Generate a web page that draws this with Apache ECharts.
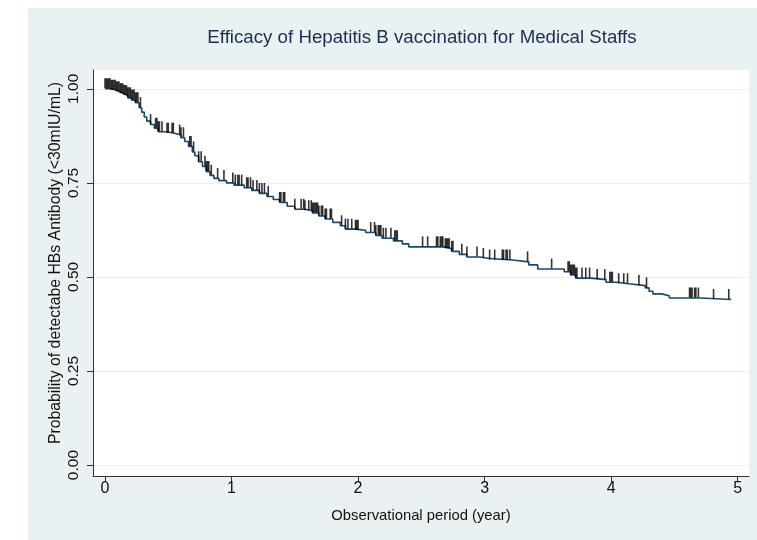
<!DOCTYPE html>
<html>
<head>
<meta charset="utf-8">
<script src="https://cdn.jsdelivr.net/npm/echarts@6/dist/echarts.min.js"></script>
<style>html,body{margin:0;padding:0;background:#fff;}#c{width:757px;height:540px;}</style>
</head>
<body>
<div id="c"></div>
<script>
// Kaplan-Meier step estimates: event times (years) and survival after each event
const eventTimes = [0.00,0.05,0.09,0.12,0.15,0.18,0.21,0.24,0.27,0.29,0.31,0.33,0.36,0.39,0.42,0.48,0.55,0.60,0.63,0.66,0.69,0.71,0.74,0.77,0.80,0.83,0.86,0.90,0.96,1.02,1.10,1.16,1.22,1.28,1.33,1.38,1.44,1.50,1.58,1.64,1.69,1.74,1.80,1.86,1.90,1.98,2.06,2.14,2.19,2.28,2.35,2.40,2.68,2.74,2.80,2.86,2.96,3.04,3.22,3.35,3.42,3.63,3.68,3.72,3.84,3.96,4.04,4.14,4.27,4.30,4.33,4.40,4.46,4.71,4.95];
const survival   = [1.000,0.996,0.992,0.987,0.982,0.976,0.970,0.963,0.950,0.938,0.925,0.914,0.905,0.895,0.886,0.882,0.877,0.870,0.860,0.847,0.832,0.822,0.806,0.794,0.780,0.770,0.762,0.756,0.750,0.744,0.737,0.730,0.722,0.714,0.706,0.698,0.688,0.680,0.676,0.670,0.662,0.654,0.645,0.636,0.627,0.624,0.618,0.610,0.603,0.596,0.588,0.580,0.575,0.568,0.560,0.553,0.549,0.545,0.540,0.532,0.521,0.514,0.505,0.497,0.493,0.486,0.482,0.477,0.471,0.462,0.455,0.450,0.444,0.440,0.440];
// censoring times (years)
const censorTimes = [0.00,0.01,0.02,0.03,0.04,0.05,0.06,0.07,0.08,0.09,0.10,0.11,0.12,0.13,0.14,0.15,0.16,0.17,0.18,0.19,0.20,0.21,0.22,0.23,0.24,0.25,0.26,0.28,
  0.36,0.40,0.41,0.42,0.43,0.45,0.49,0.50,0.53,0.54,0.59,0.60,0.62,0.67,0.68,0.70,0.74,0.76,0.79,0.80,0.81,0.82,0.84,0.89,0.94,
  1.01,1.03,1.05,1.06,1.08,1.12,1.13,1.15,1.17,1.20,1.22,1.24,1.26,1.29,
  1.38,1.39,1.41,1.42,1.50,1.55,1.57,1.58,1.61,1.63,1.64,1.65,1.66,1.67,1.68,1.69,1.71,1.72,1.74,1.75,1.78,1.79,
  1.87,1.90,1.92,1.95,1.98,1.99,2.00,2.10,2.13,2.14,2.16,2.17,2.18,2.20,2.22,2.26,2.29,2.30,2.31,
  2.51,2.55,2.62,2.63,2.65,2.66,2.67,2.69,2.70,2.71,2.72,2.74,2.75,2.82,2.86,2.94,2.99,
  3.04,3.08,3.14,3.15,3.17,3.18,3.20,3.34,3.53,3.66,3.67,3.68,3.69,3.70,3.71,3.72,3.73,3.77,3.80,3.83,3.89,
  3.95,3.99,4.00,4.01,4.06,4.10,4.13,4.22,4.28,4.62,4.63,4.64,4.66,4.67,4.69,4.81,4.93];
const xTicks = [0,1,2,3,4,5];
const yTicks = [0,0.25,0.5,0.75,1];

function survAt(t){
  let s = survival[0];
  for (let i=0;i<eventTimes.length;i++){ if (eventTimes[i] <= t) s = survival[i]; else break; }
  return s;
}
const stepData = eventTimes.map((t,i)=>[t, survival[i]]);
const censorData = censorTimes.map(t=>[t, survAt(t)]);

const FONT = "'Liberation Sans', Arial, sans-serif";
const chart = echarts.init(document.getElementById('c'), null, {renderer:'canvas'});
chart.setOption({
  animation:false,
  backgroundColor:'#ffffff',
  graphic:[{type:'rect', z:-10, shape:{x:28,y:8,width:729,height:532}, style:{fill:'#eaf1f3'}}],
  title:{text:'Efficacy of Hepatitis B vaccination for Medical Staffs', left:417, top:23, textAlign:'center',
    textStyle:{fontFamily:FONT, fontSize:18.7, fontWeight:'normal', color:'#1f2d52'}},
  grid:{left:93, top:70, right:8, bottom:64, show:true, backgroundColor:'#ffffff', borderWidth:0},
  xAxis:{type:'value', min:-0.095, max:5.09,
    axisLine:{show:true, onZero:false, lineStyle:{color:'#333', width:1}},
    axisTick:{show:true, length:6, customValues:xTicks, lineStyle:{color:'#333'}},
    axisLabel:{customValues:xTicks, margin:5, fontFamily:FONT, fontSize:16, color:'#111'},
    splitLine:{show:false},
    name:'Observational period (year)', nameLocation:'middle', nameGap:32,
    nameTextStyle:{fontFamily:FONT, fontSize:14.8, color:'#111'}},
  yAxis:{type:'value', min:-0.029, max:1.05,
    axisLine:{show:true, onZero:false, lineStyle:{color:'#333', width:1}},
    axisTick:{show:true, length:6, customValues:yTicks, lineStyle:{color:'#333'}},
    axisLabel:{customValues:yTicks, rotate:90, margin:11, fontFamily:FONT, fontSize:15.5, color:'#111',
      formatter:v=>v.toFixed(2)},
    splitLine:{show:true, lineStyle:{color:'#e6eff1', width:1}},
    name:'Probability of detectabe HBs Antibody (<30mIU/mL)', nameLocation:'middle', nameGap:29, nameRotate:90,
    nameMoveOverlap:false,
    nameTextStyle:{fontFamily:FONT, fontSize:15.8, color:'#111', padding:[0,0,0,20]}},
  series:[
    {type:'line', data:stepData, step:'end', showSymbol:false, symbol:'none',
      lineStyle:{color:'#1a476f', width:1.6}, z:3},
    {type:'scatter', data:censorData, symbol:'rect', symbolSize:[1.6,10], symbolOffset:[0,-5.5],
      itemStyle:{color:'#000000'}, z:4}
  ]
});
</script>
</body>
</html>
